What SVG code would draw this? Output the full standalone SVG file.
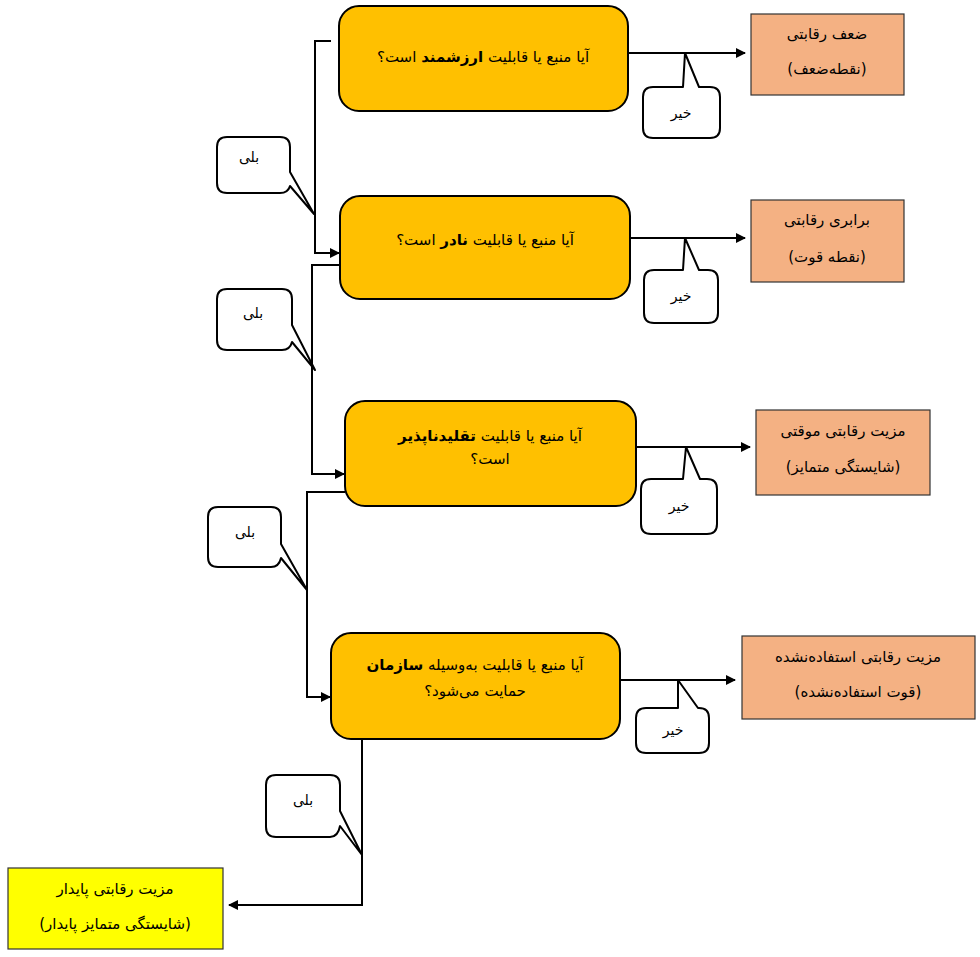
<svg xmlns="http://www.w3.org/2000/svg" width="980" height="957" viewBox="0 0 980 957">
<style>
text{font-family:"DejaVu Sans","Noto Sans",sans-serif;font-size:15px;fill:#000;text-anchor:middle;direction:rtl}
.q{fill:#FFC000;stroke:#000;stroke-width:2}
.o{fill:#F4B183;stroke:#333;stroke-width:1.2}
.y{fill:#FFFF00;stroke:#333;stroke-width:1.2}
.c{fill:#fff;stroke:#000;stroke-width:2;stroke-linejoin:round}
.l{fill:none;stroke:#000;stroke-width:2}
.s{font-size:14px}
</style>
<defs><marker id="a" markerWidth="10" markerHeight="10" refX="9" refY="5" orient="auto" markerUnits="userSpaceOnUse"><path d="M0,0 L10,5 L0,10 Z" fill="#000"/></marker></defs>
<g id="connectors">
<path class="l" d="M628,53 H745" marker-end="url(#a)"/>
<path class="l" d="M630,238 H745" marker-end="url(#a)"/>
<path class="l" d="M636,447 H750" marker-end="url(#a)"/>
<path class="l" d="M620,680 H735" marker-end="url(#a)"/>
<path class="l" d="M331,41 H315 V253 H339" marker-end="url(#a)"/>
<path class="l" d="M340,265 H312 V474 H344" marker-end="url(#a)"/>
<path class="l" d="M345,492 H307 V697 H330" marker-end="url(#a)"/>
<path class="l" d="M362,739 V905 H229" marker-end="url(#a)"/>
</g>
<g id="q1"><rect class="q" x="339" y="6" width="289" height="105" rx="20"/><text x="483" y="62">آیا منبع یا قابلیت <tspan font-weight="bold">ارزشمند</tspan> است؟</text></g>
<g id="q2"><rect class="q" x="340" y="196" width="290" height="103" rx="20"/><text x="485" y="245">آیا منبع یا قابلیت <tspan font-weight="bold">نادر</tspan> است؟</text></g>
<g id="q3"><rect class="q" x="345" y="401" width="291" height="105" rx="20"/><text x="490" y="441">آیا منبع یا قابلیت <tspan font-weight="bold">تقلیدناپذیر</tspan></text><text x="490" y="464">است؟</text></g>
<g id="q4"><rect class="q" x="331" y="633" width="289" height="106" rx="20"/><text x="475" y="670">آیا منبع یا قابلیت به‌وسیله <tspan font-weight="bold">سازمان</tspan></text><text x="475" y="696">حمایت می‌شود؟</text></g>
<g id="o1"><rect class="o" x="751" y="14" width="153" height="81"/><text x="827" y="39">ضعف رقابتی</text><text x="827" y="74">(نقطه‌ضعف)</text></g>
<g id="o2"><rect class="o" x="751" y="200" width="153" height="82"/><text x="827" y="225">برابری رقابتی</text><text x="827" y="262">(نقطه قوت)</text></g>
<g id="o3"><rect class="o" x="756" y="410" width="174" height="85"/><text x="843" y="436">مزیت رقابتی موقتی</text><text x="843" y="472">(شایستگی متمایز)</text></g>
<g id="o4"><rect class="o" x="742" y="636" width="233" height="83"/><text x="858" y="662">مزیت رقابتی استفاده‌نشده</text><text x="858" y="697">(قوت استفاده‌نشده)</text></g>
<g id="o5"><rect class="y" x="8" y="868" width="215" height="81"/><text x="115" y="894">مزیت رقابتی پایدار</text><text x="115" y="929">(شایستگی متمایز پایدار)</text></g>
<g id="k1"><path class="c" d="M653,87 H683 L685,53 L699,87 H710 Q720,87 720,97 V128 Q720,138 710,138 H653 Q643,138 643,128 V97 Q643,87 653,87 Z"/><text class="s" x="681" y="118">خیر</text></g>
<g id="k2"><path class="c" d="M654,270 H683 L685,238 L699,270 H708 Q718,270 718,280 V313 Q718,323 708,323 H654 Q644,323 644,313 V280 Q644,270 654,270 Z"/><text class="s" x="681" y="301">خیر</text></g>
<g id="k3"><path class="c" d="M651,479 H683 L686,447 L700,479 H707 Q717,479 717,489 V524 Q717,534 707,534 H651 Q641,534 641,524 V489 Q641,479 651,479 Z"/><text class="s" x="679" y="511">خیر</text></g>
<g id="k4"><path class="c" d="M646,708 H678 L678,680 L698,708 H699 Q709,708 709,718 V743 Q709,753 699,753 H646 Q636,753 636,743 V718 Q636,708 646,708 Z"/><text class="s" x="673" y="735">خیر</text></g>
<g id="b1"><path class="c" d="M227,137 H280 Q290,137 290,147 V172 L314,214 L290,186 Q288,193 280,193 H227 Q217,193 217,183 V147 Q217,137 227,137 Z"/><text class="s" x="249" y="162">بلی</text></g>
<g id="b2"><path class="c" d="M227,289 H282 Q292,289 292,299 V325 L315,370 L292,342 Q290,350 282,350 H227 Q217,350 217,340 V299 Q217,289 227,289 Z"/><text class="s" x="253" y="318">بلی</text></g>
<g id="b3"><path class="c" d="M218,507 H271 Q281,507 281,517 V544 L307,590 L281,558 Q279,567 271,567 H218 Q208,567 208,557 V517 Q208,507 218,507 Z"/><text class="s" x="245" y="537">بلی</text></g>
<g id="b4"><path class="c" d="M276,775 H330 Q340,775 340,785 V811 L362,855 L340,826 Q338,837 330,837 H276 Q266,837 266,827 V785 Q266,775 276,775 Z"/><text class="s" x="303" y="805">بلی</text></g>
</svg>
